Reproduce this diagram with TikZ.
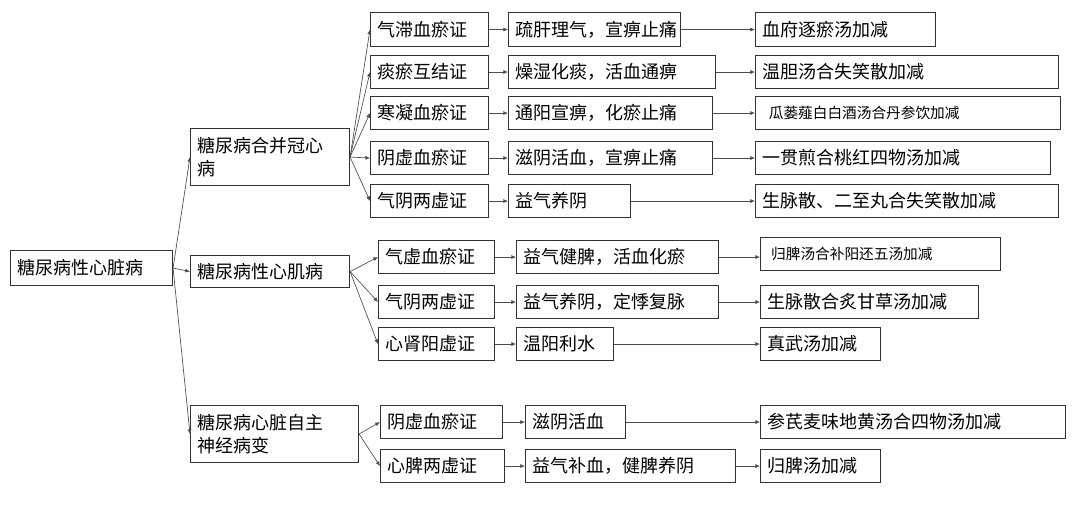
\documentclass[tikz,border=0pt]{standalone}
\usepackage{fontspec}
\setmainfont{Noto Sans CJK SC}
\usetikzlibrary{arrows.meta}
\begin{document}
\begin{tikzpicture}[x=0.75pt,y=-0.75pt,
 box/.style={draw=black!80,line width=0.8pt,anchor=north west,inner xsep=5pt,inner ysep=0pt,font=\fontsize{13.5}{17}\selectfont,align=left},
 arr/.style={draw=black!70,line width=0.5pt,-{Latex[length=3.5pt,width=3pt]}}]
\useasboundingbox (0,0) rectangle (1081,507);
\newcommand{\bx}[6]{\node[box,minimum width=#3*0.75pt,minimum height=#4*0.75pt,text width=#3*0.75pt-10pt] (#5) at (#1,#2) {#6};}
\bx{10}{250}{162}{35}{r}{糖尿病性心脏病}
\bx{190}{128}{159}{57}{a}{糖尿病合并冠心\\病}
\bx{190}{255}{159}{32}{b}{糖尿病性心肌病}
\bx{190}{405}{168}{57}{c}{糖尿病心脏自主\\神经病变}
% level 2
\bx{370}{12}{118}{34}{p1}{气滞血瘀证}
\bx{370}{55}{118}{33}{p2}{痰瘀互结证}
\bx{370}{96}{118}{33}{p3}{寒凝血瘀证}
\bx{370}{141}{118}{33}{p4}{阴虚血瘀证}
\bx{370}{184}{118}{33}{p5}{气阴两虚证}
\bx{378}{240}{116}{33}{p6}{气虚血瘀证}
\bx{378}{285}{116}{33}{p7}{气阴两虚证}
\bx{378}{327}{116}{33}{p8}{心肾阳虚证}
\bx{380}{405}{122}{33}{p9}{阴虚血瘀证}
\bx{380}{449}{124}{33}{p10}{心脾两虚证}
% level 3
\bx{508}{12}{172}{34}{q1}{疏肝理气，宣痹止痛}
\bx{508}{55}{207}{33}{q2}{燥湿化痰，活血通痹}
\bx{508}{96}{204}{33}{q3}{通阳宣痹，化瘀止痛}
\bx{508}{141}{204}{33}{q4}{滋阴活血，宣痹止痛}
\bx{508}{184}{122}{33}{q5}{益气养阴}
\bx{516}{240}{202}{33}{q6}{益气健脾，活血化瘀}
\bx{516}{285}{202}{33}{q7}{益气养阴，定悸复脉}
\bx{516}{327}{97}{33}{q8}{温阳利水}
\bx{525}{405}{100}{33}{q9}{滋阴活血}
\bx{525}{449}{210}{33}{q10}{益气补血，健脾养阴}
% level 4
\bx{755}{12}{180}{34}{s1}{血府逐瘀汤加减}
\bx{755}{55}{303}{33}{s2}{温胆汤合失笑散加减}
\bx{755}{96}{305}{33}{s3}{\fontsize{11}{13}\selectfont\hspace{5pt}瓜蒌薤白白酒汤合丹参饮加减}
\bx{755}{141}{295}{33}{s4}{一贯煎合桃红四物汤加减}
\bx{755}{184}{303}{33}{s5}{生脉散、二至丸合失笑散加减}
\bx{760}{237}{240}{33}{s6}{\fontsize{11}{13}\selectfont\hspace{3pt}归脾汤合补阳还五汤加减}
\bx{760}{285}{218}{33}{s7}{生脉散合炙甘草汤加减}
\bx{760}{327}{120}{33}{s8}{真武汤加减}
\bx{760}{405}{305}{33}{s9}{参芪麦味地黄汤合四物汤加减}
\bx{760}{449}{120}{33}{s10}{归脾汤加减}
\draw[arr] (r.east) -- (a.west);
\draw[arr] (r.east) -- (b.west);
\draw[arr] (r.east) -- (c.west);
\foreach \i in {1,...,5} \draw[arr] (a.east) -- (p\i.west);
\foreach \i in {6,7,8} \draw[arr] (b.east) -- (p\i.west);
\foreach \i in {9,10} \draw[arr] (c.east) -- (p\i.west);
\foreach \i in {1,...,10} {\draw[arr] (p\i.east) -- (q\i.west); \draw[arr] (q\i.east) -- (s\i.west|-q\i.east);}
\end{tikzpicture}
\end{document}
